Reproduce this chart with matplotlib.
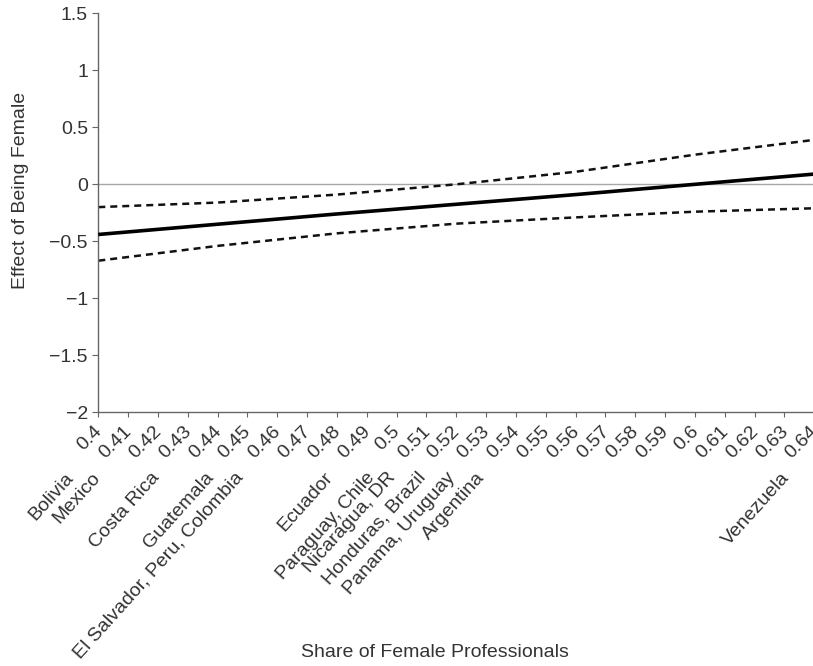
import numpy as np
import matplotlib
matplotlib.use("Agg")
import matplotlib.pyplot as plt
import matplotlib.transforms as mtransforms

plt.rcParams['font.family'] = ['Liberation Sans', 'DejaVu Sans']

# estimated effect and 95% band
share = [0.40, 0.44, 0.48, 0.52, 0.56, 0.60, 0.64]
effect = [-0.44, -0.35, -0.26, -0.175, -0.09, 0.00, 0.09]
upper = [-0.20, -0.16, -0.09, 0.00, 0.11, 0.26, 0.39]
lower = [-0.67, -0.54, -0.43, -0.345, -0.29, -0.24, -0.21]

# countries placed at their share of female professionals
countries = ["Bolivia", "Mexico", "Costa Rica", "Guatemala",
             "El Salvador, Peru, Colombia", "Ecuador", "Paraguay, Chile",
             "Nicaragua, DR", "Honduras, Brazil", "Panama, Uruguay",
             "Argentina", "Venezuela"]
country_share = [0.400, 0.409, 0.429, 0.447, 0.457, 0.487, 0.501,
                 0.508, 0.518, 0.528, 0.538, 0.640]

xticks = [round(0.40 + 0.01 * i, 2) for i in range(25)]
yticks = [-2, -1.5, -1, -0.5, 0, 0.5, 1, 1.5]

txt = "#333333"
axc = "#666666"
fs = 14

fig = plt.figure(figsize=(8.13, 6.66), dpi=100)
ax = fig.add_axes([0.1209, 0.3809, 0.8807, 0.5991])

ax.axhline(0, color="#a8a8a8", lw=1.0, zorder=1)
ax.plot(share, effect, color="black", lw=2.6, solid_capstyle="butt", zorder=3)
ax.plot(share, upper, color="#111111", lw=1.8, linestyle=(0, (2.8, 2.0)), zorder=2)
ax.plot(share, lower, color="#111111", lw=1.8, linestyle=(0, (2.8, 2.0)), zorder=2)

ax.set_xlim(0.40, 0.64)
ax.set_ylim(-2, 1.5)

for s in ["top", "right"]:
    ax.spines[s].set_visible(False)
for s in ["left", "bottom"]:
    ax.spines[s].set_color(axc)
    ax.spines[s].set_linewidth(1.0)

ax.set_yticks(yticks, [("\u2212" if v < 0 else "") + f"{abs(v):g}" for v in yticks])
ax.set_xticks(xticks, [f"{v:g}" for v in xticks])
ax.tick_params(axis="y", length=4.5, pad=3, color=axc, labelcolor=txt, labelsize=fs)
ax.tick_params(axis="x", length=3.4, pad=4, color=axc, labelcolor=txt, labelsize=fs)
shift = mtransforms.ScaledTranslation(-5 / 100, 0, fig.dpi_scale_trans)
for lab in ax.get_xticklabels():
    lab.set_rotation(45)
    lab.set_ha("right")
    lab.set_va("top")
    lab.set_rotation_mode("anchor")
    lab.set_transform(lab.get_transform() + shift)

# country names below the numeric ticks
base = mtransforms.blended_transform_factory(ax.transData, ax.transAxes)
ctrans = mtransforms.offset_copy(base, fig=fig, x=-34, y=0, units="dots")
for name, x in zip(countries, country_share):
    ax.text(x, -0.142, name, transform=ctrans, rotation=48, ha="right", va="top",
            rotation_mode="anchor", fontsize=fs, color=txt, clip_on=False)

ax.set_ylabel("Effect of Being Female", fontsize=fs, color=txt)
ax.yaxis.set_label_coords(-0.109, 0.555)
ax.yaxis.label.set_va("center")
ax.set_xlabel("Share of Female Professionals", fontsize=fs, color=txt)
ax.xaxis.set_label_coords(0.47, -0.603)
ax.xaxis.label.set_va("center")

fig.savefig("out.png", dpi=100, facecolor="white")
